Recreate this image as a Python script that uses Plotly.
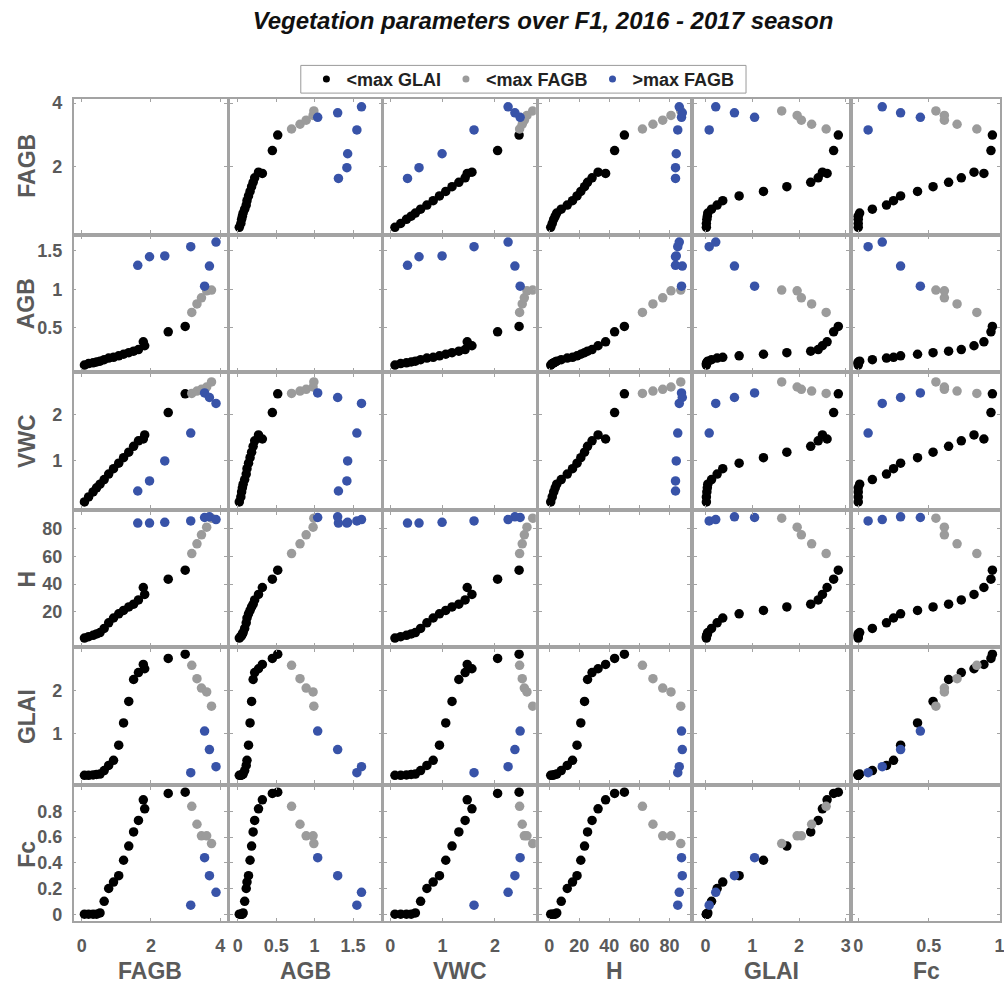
import plotly.graph_objects as go

# ---------------- data ----------------
variables = ["FAGB", "AGB", "VWC", "H", "GLAI", "Fc"]
group_names = ["<max GLAI", "<max FAGB", ">max FAGB"]

# group 1: <max GLAI (black)
fagb_black = [0.08, 0.20, 0.33, 0.43, 0.53, 0.65, 0.78, 0.92, 1.07, 1.21, 1.36, 1.50, 1.64, 1.78, 1.82, 2.50, 2.99]
agb_black = [0.02, 0.04, 0.05, 0.06, 0.07, 0.09, 0.11, 0.12, 0.14, 0.16, 0.18, 0.20, 0.22, 0.32, 0.27, 0.45, 0.52]
vwc_black = [0.09, 0.20, 0.31, 0.40, 0.48, 0.58, 0.70, 0.82, 0.94, 1.06, 1.18, 1.31, 1.43, 1.47, 1.56, 2.05, 2.46]
h_black = [1.0, 2.0, 3.0, 4.0, 5.0, 8.0, 12.0, 15.5, 18.5, 21.0, 23.5, 25.5, 28.5, 37.5, 32.5, 43.5, 50.0]
glai_black = [0.02, 0.02, 0.03, 0.04, 0.05, 0.13, 0.25, 0.37, 0.72, 1.24, 1.74, 2.25, 2.41, 2.60, 2.50, 2.74, 2.84]
fc_black = [0.0, 0.0, 0.0, 0.0, 0.01, 0.10, 0.20, 0.25, 0.30, 0.42, 0.53, 0.64, 0.73, 0.89, 0.82, 0.94, 0.95]

# group 2: <max FAGB (gray)
fagb_gray = [3.18, 3.33, 3.46, 3.61, 3.75]
agb_gray = [0.70, 0.81, 0.89, 0.98, 0.99]
vwc_gray = [2.47, 2.52, 2.56, 2.61, 2.72]
h_gray = [62.0, 69.0, 75.5, 81.0, 87.5]
glai_gray = [2.58, 2.27, 2.05, 1.96, 1.63]
fc_gray = [0.84, 0.70, 0.61, 0.61, 0.55]

# group 3: >max FAGB (blue)
fagb_blue = [1.62, 1.96, 2.40, 3.15, 3.55, 3.69, 3.88]
agb_blue = [1.31, 1.42, 1.43, 1.55, 1.04, 1.30, 1.61]
vwc_blue = [0.33, 0.55, 0.99, 1.60, 2.48, 2.38, 2.25]
h_blue = [84.0, 84.0, 84.5, 85.5, 88.0, 88.5, 86.5]
glai_blue = [None, None, None, 0.08, 1.05, 0.62, 0.22]
fc_blue = [None, None, None, 0.07, 0.44, 0.30, 0.17]

# tick labels
x_tickvals = [[0, 2, 4], [0, 0.5, 1, 1.5], [0, 1, 2], [0, 20, 40, 60, 80], [0, 1, 2, 3], [0, 0.5, 1]]
x_ticktext = [["0", "2", "4"], ["0", "0.5", "1", "1.5"], ["0", "1", "2"], ["0", "20", "40", "60", "80"],
              ["0", "1", "2", "3"], ["0", "0.5", "1"]]
y_tickvals = [[2, 4], [0.5, 1, 1.5], [1, 2], [20, 40, 60, 80], [1, 2], [0, 0.2, 0.4, 0.6, 0.8]]
y_ticktext = [["2", "4"], ["0.5", "1", "1.5"], ["1", "2"], ["20", "40", "60", "80"], ["1", "2"],
              ["0", "0.2", "0.4", "0.6", "0.8"]]

# ---------------- styling / layout ----------------
W, HGT = 1004, 986
col_px = [(74, 228), (231, 383), (386, 538), (541, 693), (697, 852), (856, 1004)]
row_px = [(94, 229), (233, 368), (372, 507), (511, 646), (650, 785), (789, 924)]
x_ranges = [[-0.23, 4.20], [-0.10, 1.87], [-0.11, 2.78], [-6.9, 93.8], [-0.24, 3.06], [-0.04, 1.004]]
y_ranges = [[-0.09, 4.125], [-0.047, 1.68], [-0.04, 2.89], [-4.3, 92.1], [-0.16, 2.95], [-0.05, 0.99]]

colors = ["#000000", "#9b9b9b", "#3853a8"]
FONT = "Liberation Sans, Arial, sans-serif"
AXGRAY = "#5a5a5a"
FRAME = "#a3a3a3"

groups = [
    [fagb_black, agb_black, vwc_black, h_black, glai_black, fc_black],
    [fagb_gray, agb_gray, vwc_gray, h_gray, glai_gray, fc_gray],
    [fagb_blue, agb_blue, vwc_blue, h_blue, glai_blue, fc_blue],
]

fig = go.Figure()
layout_axes = {}
for r in range(6):
    for c in range(6):
        k = r * 6 + c + 1
        xa = "x" if k == 1 else f"x{k}"
        ya = "y" if k == 1 else f"y{k}"
        if r == c:
            fig.add_trace(go.Scatter(x=[None], y=[None], xaxis=xa, yaxis=ya, showlegend=False,
                                     hoverinfo="skip", mode="markers"))
        else:
            for g in range(3):
                fig.add_trace(go.Scatter(
                    x=groups[g][c], y=groups[g][r], xaxis=xa, yaxis=ya, mode="markers",
                    marker=dict(color=colors[g], size=9.5, line=dict(width=0)),
                    showlegend=False, name=group_names[g]))
        x0, x1 = col_px[c]
        y0, y1 = row_px[r]
        xkey = "xaxis" if k == 1 else f"xaxis{k}"
        ykey = "yaxis" if k == 1 else f"yaxis{k}"
        common = dict(showgrid=False, zeroline=False, showline=True, mirror="allticks",
                      linecolor=FRAME, linewidth=1.5, ticks="inside", ticklen=3,
                      tickcolor=FRAME, tickwidth=1,
                      tickfont=dict(family=FONT, size=18, color=AXGRAY, weight="bold"))
        layout_axes[xkey] = dict(common, domain=[x0 / W, x1 / W], range=x_ranges[c],
                                 anchor=ya, tickvals=x_tickvals[c], ticktext=x_ticktext[c],
                                 showticklabels=(r == 5), ticklabelstandoff=8,
                                 ticklabeloverflow="allow")
        layout_axes[ykey] = dict(common, domain=[1 - y1 / HGT, 1 - y0 / HGT], range=y_ranges[r],
                                 anchor=xa, tickvals=y_tickvals[r], ticktext=y_ticktext[r],
                                 showticklabels=(c == 0), ticklabelstandoff=6)

# legend-only traces
for g in range(3):
    fig.add_trace(go.Scatter(x=[None], y=[None], mode="markers", name=group_names[g],
                             marker=dict(color=colors[g], size=7), showlegend=True))

annotations = []
for i, v in enumerate(variables):
    cx = (col_px[i][0] + col_px[i][1]) / 2 / W
    annotations.append(dict(text=f"<b>{v}</b>", x=cx, y=1 - 975 / HGT, xref="paper", yref="paper",
                            showarrow=False, xanchor="center", yanchor="middle",
                            font=dict(family=FONT, size=23, color=AXGRAY)))
    cy = 1 - (row_px[i][0] + row_px[i][1]) / 2 / HGT
    annotations.append(dict(text=f"<b>{v}</b>", x=27 / W, y=cy, xref="paper", yref="paper",
                            showarrow=False, xanchor="center", yanchor="middle", textangle=-90,
                            font=dict(family=FONT, size=23, color=AXGRAY)))

# legend frame
shapes = [dict(type="rect", xref="paper", yref="paper",
               x0=302 / W, x1=749 / W, y0=1 - 88 / HGT, y1=1 - 60 / HGT,
               line=dict(color="#9a9a9a", width=1), fillcolor="rgba(0,0,0,0)", layer="above")]

fig.update_layout(
    width=W, height=HGT,
    margin=dict(l=0, r=0, t=0, b=0),
    paper_bgcolor="white", plot_bgcolor="white",
    title=dict(text="<b><i>Vegetation parameters over F1, 2016 - 2017 season</i></b>",
               x=543 / W, xanchor="center", y=1 - 21 / HGT, yanchor="middle",
               font=dict(family=FONT, size=24, color="#111111")),
    legend=dict(orientation="h", x=525 / W, xanchor="center", y=1 - 74 / HGT, yanchor="middle",
                borderwidth=0, bgcolor="rgba(0,0,0,0)",
                font=dict(family=FONT, size=18, color="#222222", weight="bold"),
                itemwidth=30, tracegroupgap=0),
    annotations=annotations,
    shapes=shapes,
    showlegend=True,
    **layout_axes,
)

fig.write_html("out.html")
